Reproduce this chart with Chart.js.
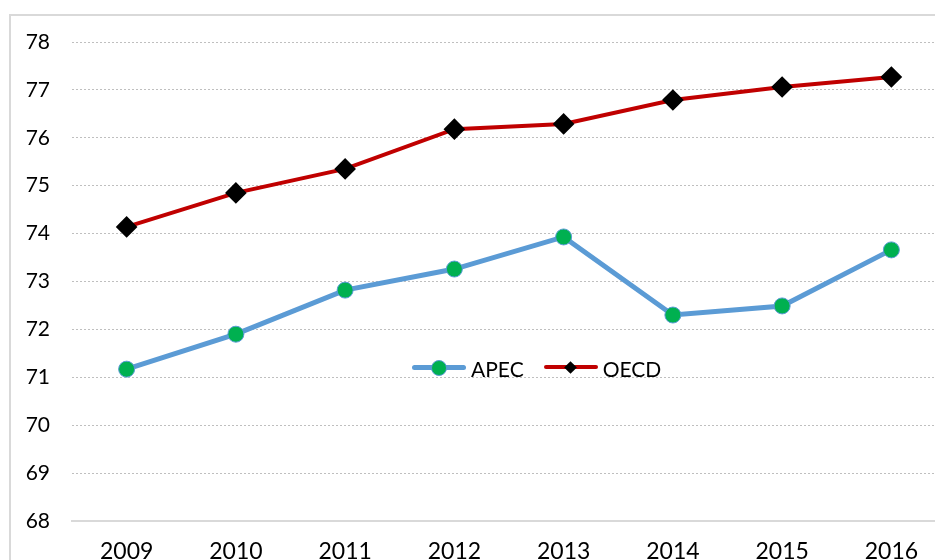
<!DOCTYPE html>
<html lang="en">
<head>
    <meta charset="UTF-8">
    <title>APEC vs OECD</title>
    <script src="https://cdn.jsdelivr.net/npm/chart.js"></script>
    <style>
        html, body { margin: 0; padding: 0; overflow: hidden; background: #fff; }
        #frame { position: absolute; left: 9px; top: 14px; width: 960px; height: 600px;
                 border-left: 2px solid #d9d9d9; border-top: 2px solid #d9d9d9; }
        #wrap { position: absolute; left: 0; top: 0; width: 958px; height: 580px; }
        #legend { position: absolute; top: 356px; left: 412px; font: 21px Lato, sans-serif;
                  color: #000; display: flex; align-items: center; height: 24px; }
        .item { display: flex; align-items: center; margin-right: 20px; }
        .sw { position: relative; width: 54px; height: 24px; margin-right: 5px; }
        .sw .ln { position: absolute; left: 0; right: 0; top: 9px; height: 5px; border-radius: 3px; }
        .dot { position: absolute; left: 19px; top: 4px; width: 14px; height: 14px; border-radius: 50%;
               background: #00b050; border: 1px solid #5b9bd5; }
        .dia { position: absolute; left: 22px; top: 7px; width: 9px; height: 9px; background: #000;
               transform: rotate(45deg); }
    </style>
</head>
<body>
    <div id="frame"></div>
    <div id="wrap"><canvas id="myChart"></canvas></div>
    <div id="legend">
        <div class="item"><div class="sw"><div class="ln" style="background:#5b9bd5"></div><div class="dot"></div></div>APEC</div>
        <div class="item"><div class="sw"><div class="ln" style="background:#c00000;height:4px"></div><div class="dia"></div></div>OECD</div>
    </div>
    <script>
        const years = ['2009', '2010', '2011', '2012', '2013', '2014', '2015', '2016'];
        const apec = [71.17, 71.90, 72.82, 73.26, 73.93, 72.30, 72.49, 73.66];
        const oecd = [74.14, 74.85, 75.35, 76.18, 76.29, 76.79, 77.06, 77.27];
        const yMin = 68;
        const yMax = 78;

        const ctx = document.getElementById('myChart').getContext('2d');
        const myChart = new Chart(ctx, {
            type: 'line',
            data: {
                labels: years,
                datasets: [
                    {
                        label: 'APEC',
                        data: apec,
                        borderColor: '#5b9bd5',
                        borderWidth: 5,
                        pointBackgroundColor: '#00b050',
                        pointBorderColor: '#5b9bd5',
                        pointBorderWidth: 1,
                        pointRadius: 8,
                        fill: false,
                        tension: 0
                    },
                    {
                        label: 'OECD',
                        data: oecd,
                        borderColor: '#c00000',
                        borderWidth: 4,
                        pointStyle: 'rectRot',
                        pointBackgroundColor: '#000',
                        pointBorderColor: '#000',
                        pointRadius: 8,
                        fill: false,
                        tension: 0
                    }
                ]
            },
            options: {
                responsive: true,
                maintainAspectRatio: false,
                animation: false,
                layout: { padding: { top: 42, right: 3.6, left: 0, bottom: 0 } },
                plugins: { legend: { display: false }, tooltip: { enabled: false } },
                scales: {
                    x: {
                        offset: true,
                        grid: { display: false, drawTicks: false },
                        border: { display: true, color: '#d9d9d9', width: 2 },
                        ticks: { color: '#000', font: { family: 'Lato', size: 23 }, padding: 17 },
                        afterFit: s => { s.height = 59; }
                    },
                    y: {
                        min: yMin,
                        max: yMax,
                        ticks: { stepSize: 1, color: '#000', font: { family: 'Lato', size: 21 }, padding: 22 },
                        grid: {
                            drawTicks: false,
                            color: c => c.tick.value === yMin ? 'rgba(0,0,0,0)' : '#bfbfbf',
                            lineWidth: 1
                        },
                        border: { display: false, dash: [2, 2] },
                        afterFit: s => { s.width = 72; }
                    }
                }
            }
        });
    </script>
</body>
</html>
